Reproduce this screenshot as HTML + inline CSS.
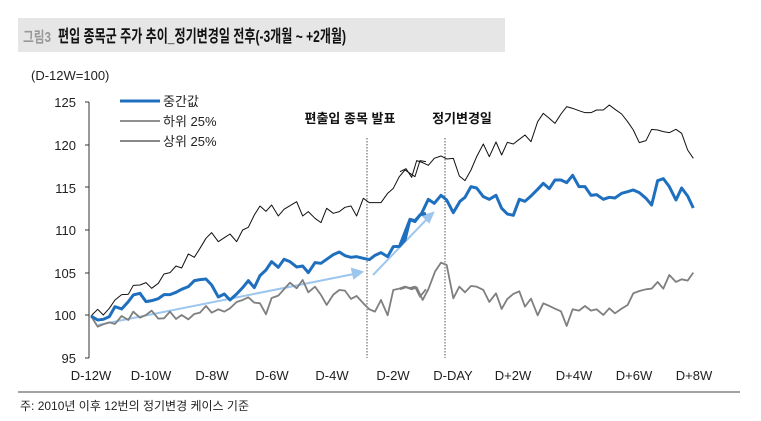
<!DOCTYPE html>
<html><head><meta charset="utf-8"><style>
body{margin:0;background:#fff;width:761px;height:416px;overflow:hidden;font-family:"Liberation Sans","Noto Sans CJK KR",sans-serif;}
</style></head><body>
<svg width="761" height="416" xmlns="http://www.w3.org/2000/svg" font-family="Liberation Sans, Noto Sans CJK KR, sans-serif">
<rect x="18" y="18" width="487" height="34" fill="#e6e6e6"/>
<text x="23" y="42" font-size="15" fill="#999" font-weight="bold" textLength="28" lengthAdjust="spacingAndGlyphs">그림3</text>
<text x="58" y="42" font-size="17" fill="#111" font-weight="bold" textLength="288" lengthAdjust="spacingAndGlyphs">편입 종목군 주가 추이_정기변경일 전후(-3개월 ~ +2개월)</text>
<text x="31" y="80" font-size="13" fill="#222">(D-12W=100)</text>
<g font-size="13" fill="#222" text-anchor="end">
<text x="76" y="107">125</text><text x="76" y="150">120</text><text x="76" y="193">115</text><text x="76" y="235">110</text><text x="76" y="278">105</text><text x="76" y="320">100</text><text x="76" y="363">95</text>
</g>
<line x1="89" y1="102" x2="89" y2="358" stroke="#333"/>
<g stroke="#333"><line x1="85" y1="102" x2="89" y2="102"/><line x1="85" y1="145" x2="89" y2="145"/><line x1="85" y1="187" x2="89" y2="187"/><line x1="85" y1="230" x2="89" y2="230"/><line x1="85" y1="273" x2="89" y2="273"/><line x1="85" y1="315" x2="89" y2="315"/><line x1="85" y1="358" x2="89" y2="358"/></g>
<g font-size="13" fill="#222" text-anchor="middle">
<text x="91" y="380">D-12W</text><text x="151" y="380">D-10W</text><text x="212" y="380">D-8W</text><text x="272" y="380">D-6W</text><text x="332" y="380">D-4W</text><text x="393" y="380">D-2W</text><text x="453" y="380">D-DAY</text><text x="513" y="380">D+2W</text><text x="574" y="380">D+4W</text><text x="634" y="380">D+6W</text><text x="694" y="380">D+8W</text>
</g>
<line x1="367" y1="138" x2="367" y2="358" stroke="#555" stroke-dasharray="1.5,1.5"/>
<line x1="445" y1="138" x2="445" y2="358" stroke="#555" stroke-dasharray="1.5,1.5"/>
<text x="350" y="123" font-size="13" font-weight="bold" text-anchor="middle" fill="#111">편출입 종목 발표</text>
<text x="462" y="123" font-size="13" font-weight="bold" text-anchor="middle" fill="#111">정기변경일</text>
<g stroke="#9cc6ee" stroke-width="2" fill="#9cc6ee">
<line x1="98" y1="325" x2="354" y2="274"/><polygon points="362,272 352,269 354,278"/>
<line x1="373" y1="275" x2="427" y2="219"/><polygon points="433,213 423,216 429,222"/>
</g>
<g transform="translate(60,90) scale(0.3333)" fill="none" stroke-linejoin="round">
<polyline vector-effect="non-scaling-stroke" stroke="#7f7f7f" stroke-width="1.8" points="93,678 113,710 130,703 148,697 165,702 185,678 205,690 220,665 240,683 258,675 275,662 295,686 312,685 330,665 348,687 365,675 385,688 403,672 420,668 438,648 455,668 475,658 493,665 510,655 530,636 548,630 565,622 583,638 600,640 618,673 635,624 655,617 672,598 690,578 710,595 728,570 745,607 765,590 783,615 800,645 820,614 838,600 855,602 873,627 890,618 910,640 928,658 945,665 963,630 983,676 1000,600 1018,596 1035,590 1050,594 1065,590 1080,620 1098,598"/>
<polyline vector-effect="non-scaling-stroke" stroke="#111" stroke-width="1" points="93,678 113,658 130,675 148,655 165,630 185,614 205,613 220,586 240,585 258,578 275,595 295,580 312,552 330,548 348,528 365,534 385,492 403,502 420,475 438,445 455,428 475,455 493,443 510,432 530,455 548,420 565,412 583,375 600,348 618,364 635,345 655,378 672,358 690,347 710,335 728,378 745,365 765,385 783,398 800,355 820,370 838,365 855,352 873,348 890,378 910,325 928,338 945,338 963,338 983,310 1000,295 1018,260 1035,240 1050,250 1065,260 1080,212 1098,215"/>
<polyline vector-effect="non-scaling-stroke" stroke="#1f6fbf" stroke-width="3" points="93,678 113,690 130,688 148,680 165,650 185,657 205,635 220,615 240,610 258,635 275,632 295,626 312,614 330,614 348,607 365,598 385,590 403,572 420,569 438,567 455,585 475,621 493,612 510,630 530,612 548,593 565,572 583,593 600,557 618,540 635,515 655,532 672,508 690,515 710,531 728,528 745,548 765,518 783,520 800,508 820,494 838,486 855,497 873,502 890,500 910,505 928,509 945,496 963,488 983,500 1000,470 1018,469 1035,450 1050,389 1065,395 1080,375 1098,370"/>
</g>
<g transform="translate(400,90) scale(0.3333)" fill="none" stroke-linejoin="round">
<polyline vector-effect="non-scaling-stroke" stroke="#7f7f7f" stroke-width="1.8" points="0,598 18,592 35,598 50,592 68,630 85,598 105,545 123,518 140,525 160,625 178,590 195,607 213,588 230,590 250,600 268,636 288,610 305,657 322,627 340,612 358,604 375,650 393,626 413,676 430,640 448,648 465,656 483,664 500,708 518,658 537,662 555,648 573,662 590,658 610,675 628,655 645,670 665,656 683,645 700,610 718,603 738,598 755,596 773,576 790,596 808,555 828,576 845,568 863,572 880,548"/>
<polyline vector-effect="non-scaling-stroke" stroke="#111" stroke-width="1" points="0,245 18,236 35,262 50,212 68,218 85,226 103,205 123,198 140,207 160,205 178,258 195,272 213,240 230,200 250,162 268,200 288,156 305,195 322,157 340,162 358,148 375,135 393,155 413,95 430,70 448,85 465,100 483,72 500,50 518,55 537,62 555,68 573,68 590,60 610,60 628,45 645,58 665,72 683,95 700,120 718,158 738,152 755,118 773,120 790,125 808,128 828,118 845,130 863,180 880,205"/>
<polyline vector-effect="non-scaling-stroke" stroke="#1f6fbf" stroke-width="3" points="0,465 30,388 45,392 65,370 85,328 103,340 123,316 140,330 160,368 180,334 195,322 213,290 230,294 250,320 268,328 288,316 305,355 322,372 340,376 358,328 375,334 395,316 413,298 430,280 448,296 465,270 483,270 500,278 518,256 537,290 555,290 573,316 590,314 610,328 628,322 645,324 665,310 683,305 700,300 718,308 738,325 755,345 773,272 790,266 808,290 828,330 845,294 863,318 880,354"/>
</g>
<line x1="120" y1="101" x2="160" y2="101" stroke="#1f6fbf" stroke-width="3"/>
<line x1="120" y1="121" x2="160" y2="121" stroke="#7f7f7f" stroke-width="1.8"/>
<line x1="120" y1="141" x2="160" y2="141" stroke="#111" stroke-width="1"/>
<g font-size="13" fill="#222"><text x="163" y="106">중간값</text><text x="163" y="126">하위 25%</text><text x="163" y="146">상위 25%</text></g>
<line x1="18" y1="392" x2="740" y2="392" stroke="#444"/>
<text x="20" y="410" font-size="12" fill="#222">주: 2010년 이후 12번의 정기변경 케이스 기준</text>
</svg>
</body></html>
